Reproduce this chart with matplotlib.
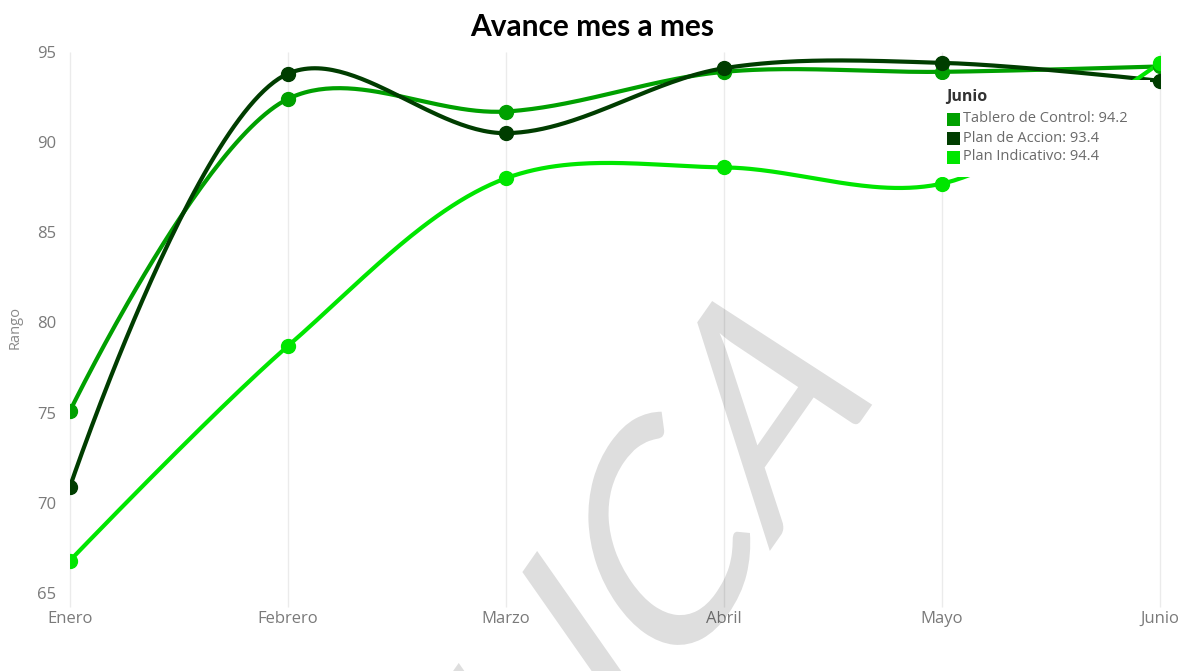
import numpy as np
import matplotlib
matplotlib.use("Agg")
import matplotlib.pyplot as plt
from matplotlib.patches import Rectangle, PathPatch
from matplotlib.textpath import TextPath
from matplotlib.font_manager import FontProperties
from matplotlib.transforms import Affine2D

# datos
meses = ["Enero", "Febrero", "Marzo", "Abril", "Mayo", "Junio"]
tablero = [75.1, 92.4, 91.7, 93.9, 93.9, 94.2]
accion = [70.9, 93.8, 90.5, 94.1, 94.4, 93.4]
indicativo = [66.8, 78.7, 88.0, 88.6, 87.7, 94.4]

series = [
    ("Tablero de Control", tablero, "#00a000"),
    ("Plan de Accion", accion, "#003d00"),
    ("Plan Indicativo", indicativo, "#00e600"),
]

W, H = 1183, 671
plt.rcParams['font.family'] = ['Open Sans', 'DejaVu Sans']

# escala en pixeles para la curva catmull-rom (centripeta)
PX_X = 218.0
PX_Y = 18.0


def catmull_rom(vals, alpha=0.5, n=60):
    P = np.column_stack([np.arange(len(vals)) * PX_X, np.asarray(vals, float) * PX_Y])
    out = []
    for i in range(len(P) - 1):
        p1, p2 = P[i], P[i + 1]
        l12 = np.linalg.norm(p2 - p1)
        c1, c2 = p1.copy(), p2.copy()
        if i > 0:
            p0 = P[i - 1]
            l01 = np.linalg.norm(p1 - p0)
            a = 2 * l01 ** (2 * alpha) + 3 * l01 ** alpha * l12 ** alpha + l12 ** (2 * alpha)
            m = 3 * l01 ** alpha * (l01 ** alpha + l12 ** alpha)
            c1 = (p1 * a - p0 * l12 ** (2 * alpha) + p2 * l01 ** (2 * alpha)) / m
        if i < len(P) - 2:
            p3 = P[i + 2]
            l23 = np.linalg.norm(p3 - p2)
            b = 2 * l23 ** (2 * alpha) + 3 * l23 ** alpha * l12 ** alpha + l12 ** (2 * alpha)
            m = 3 * l23 ** alpha * (l23 ** alpha + l12 ** alpha)
            c2 = (p2 * b + p1 * l23 ** (2 * alpha) - p3 * l12 ** (2 * alpha)) / m
        t = np.linspace(0, 1, n)[:, None]
        seg = ((1 - t) ** 3 * p1 + 3 * (1 - t) ** 2 * t * c1
               + 3 * (1 - t) * t ** 2 * c2 + t ** 3 * p2)
        out.append(seg)
    out = np.vstack(out)
    return out[:, 0] / PX_X, out[:, 1] / PX_Y


def fx(px):
    return px / W


def fy(py):
    return 1 - py / H


fig = plt.figure(figsize=(W / 100, H / 100), dpi=100)
ax = fig.add_axes([fx(70), fy(593), fx(1160) - fx(70), fy(52) - fy(593)])

x = np.arange(len(meses))
ax.vlines(x, 64.2, 95, color="#ebebeb", lw=1, zorder=0, clip_on=False)

for nombre, vals, col in series:
    sx, sy = catmull_rom(vals)
    ax.plot(sx, sy, color=col, lw=3, zorder=2, solid_capstyle='round')
    ax.plot(x, vals, 'o', color=col, ms=10, zorder=3)

ax.set_xlim(0, 5)
ax.set_ylim(65, 95)
ax.set_xticks(x)
ax.set_xticklabels(meses)
ax.set_yticks(range(65, 96, 5))
ax.tick_params(length=0, colors="#7a7a7a", labelsize=12)
ax.tick_params(axis='x', pad=13)
ax.tick_params(axis='y', pad=10)
for sp in ax.spines.values():
    sp.set_visible(False)
for lab in ax.get_xticklabels() + ax.get_yticklabels():
    lab.set_clip_on(False)

fig.text(fx(15), fy(327), "Rango", rotation=90, ha='center', va='center',
         color="#8a8a8a", fontsize=10.5)
fig.text(fx(592), fy(27), "Avance mes a mes", ha='center', va='center',
         fontsize=21.5, fontweight='bold', color="black", family=['Lato', 'DejaVu Sans'])

# tooltip de Junio
fig.add_artist(Rectangle((fx(935), fy(177)), fx(1150) - fx(935), fy(80) - fy(177),
                         transform=fig.transFigure, facecolor="white",
                         edgecolor="none", zorder=5))
fig.text(fx(946), fy(97), "Junio", ha='left', va='center', fontsize=11.5,
         fontweight='bold', color="#333333", zorder=6)
junio_y = [119, 138, 157]
for (nombre, vals, col), py in zip(series, junio_y):
    fig.add_artist(Rectangle((fx(947), fy(py + 7)), fx(13), 13 / H,
                             transform=fig.transFigure, facecolor=col,
                             edgecolor="none", zorder=6))
    fig.text(fx(963), fy(py), "%s: %.1f" % (nombre, vals[-1]), ha='left',
             va='center', fontsize=10.5, color="#6a6a6a", zorder=6)

# marca de agua (inclinada y girada)
wm_prop = FontProperties(family='Lato')
wm_size = 266
full = TextPath((0, 0), "LICA", size=wm_size, prop=wm_prop)
ica = TextPath((0, 0), "ICA", size=wm_size, prop=wm_prop)
fb, ib = full.get_extents(), ica.get_extents()
cx = fb.x1 - ib.width / 2
cy = 0.36 * wm_size
target = (697, H - 488)
tr = (Affine2D().translate(-cx, -cy).skew_deg(20, 0).rotate_deg(55)
      .translate(*target))
fig.add_artist(PathPatch(full, transform=tr, facecolor="black", alpha=0.13,
                         edgecolor="none", zorder=7))

fig.savefig("out.png", dpi=100)
